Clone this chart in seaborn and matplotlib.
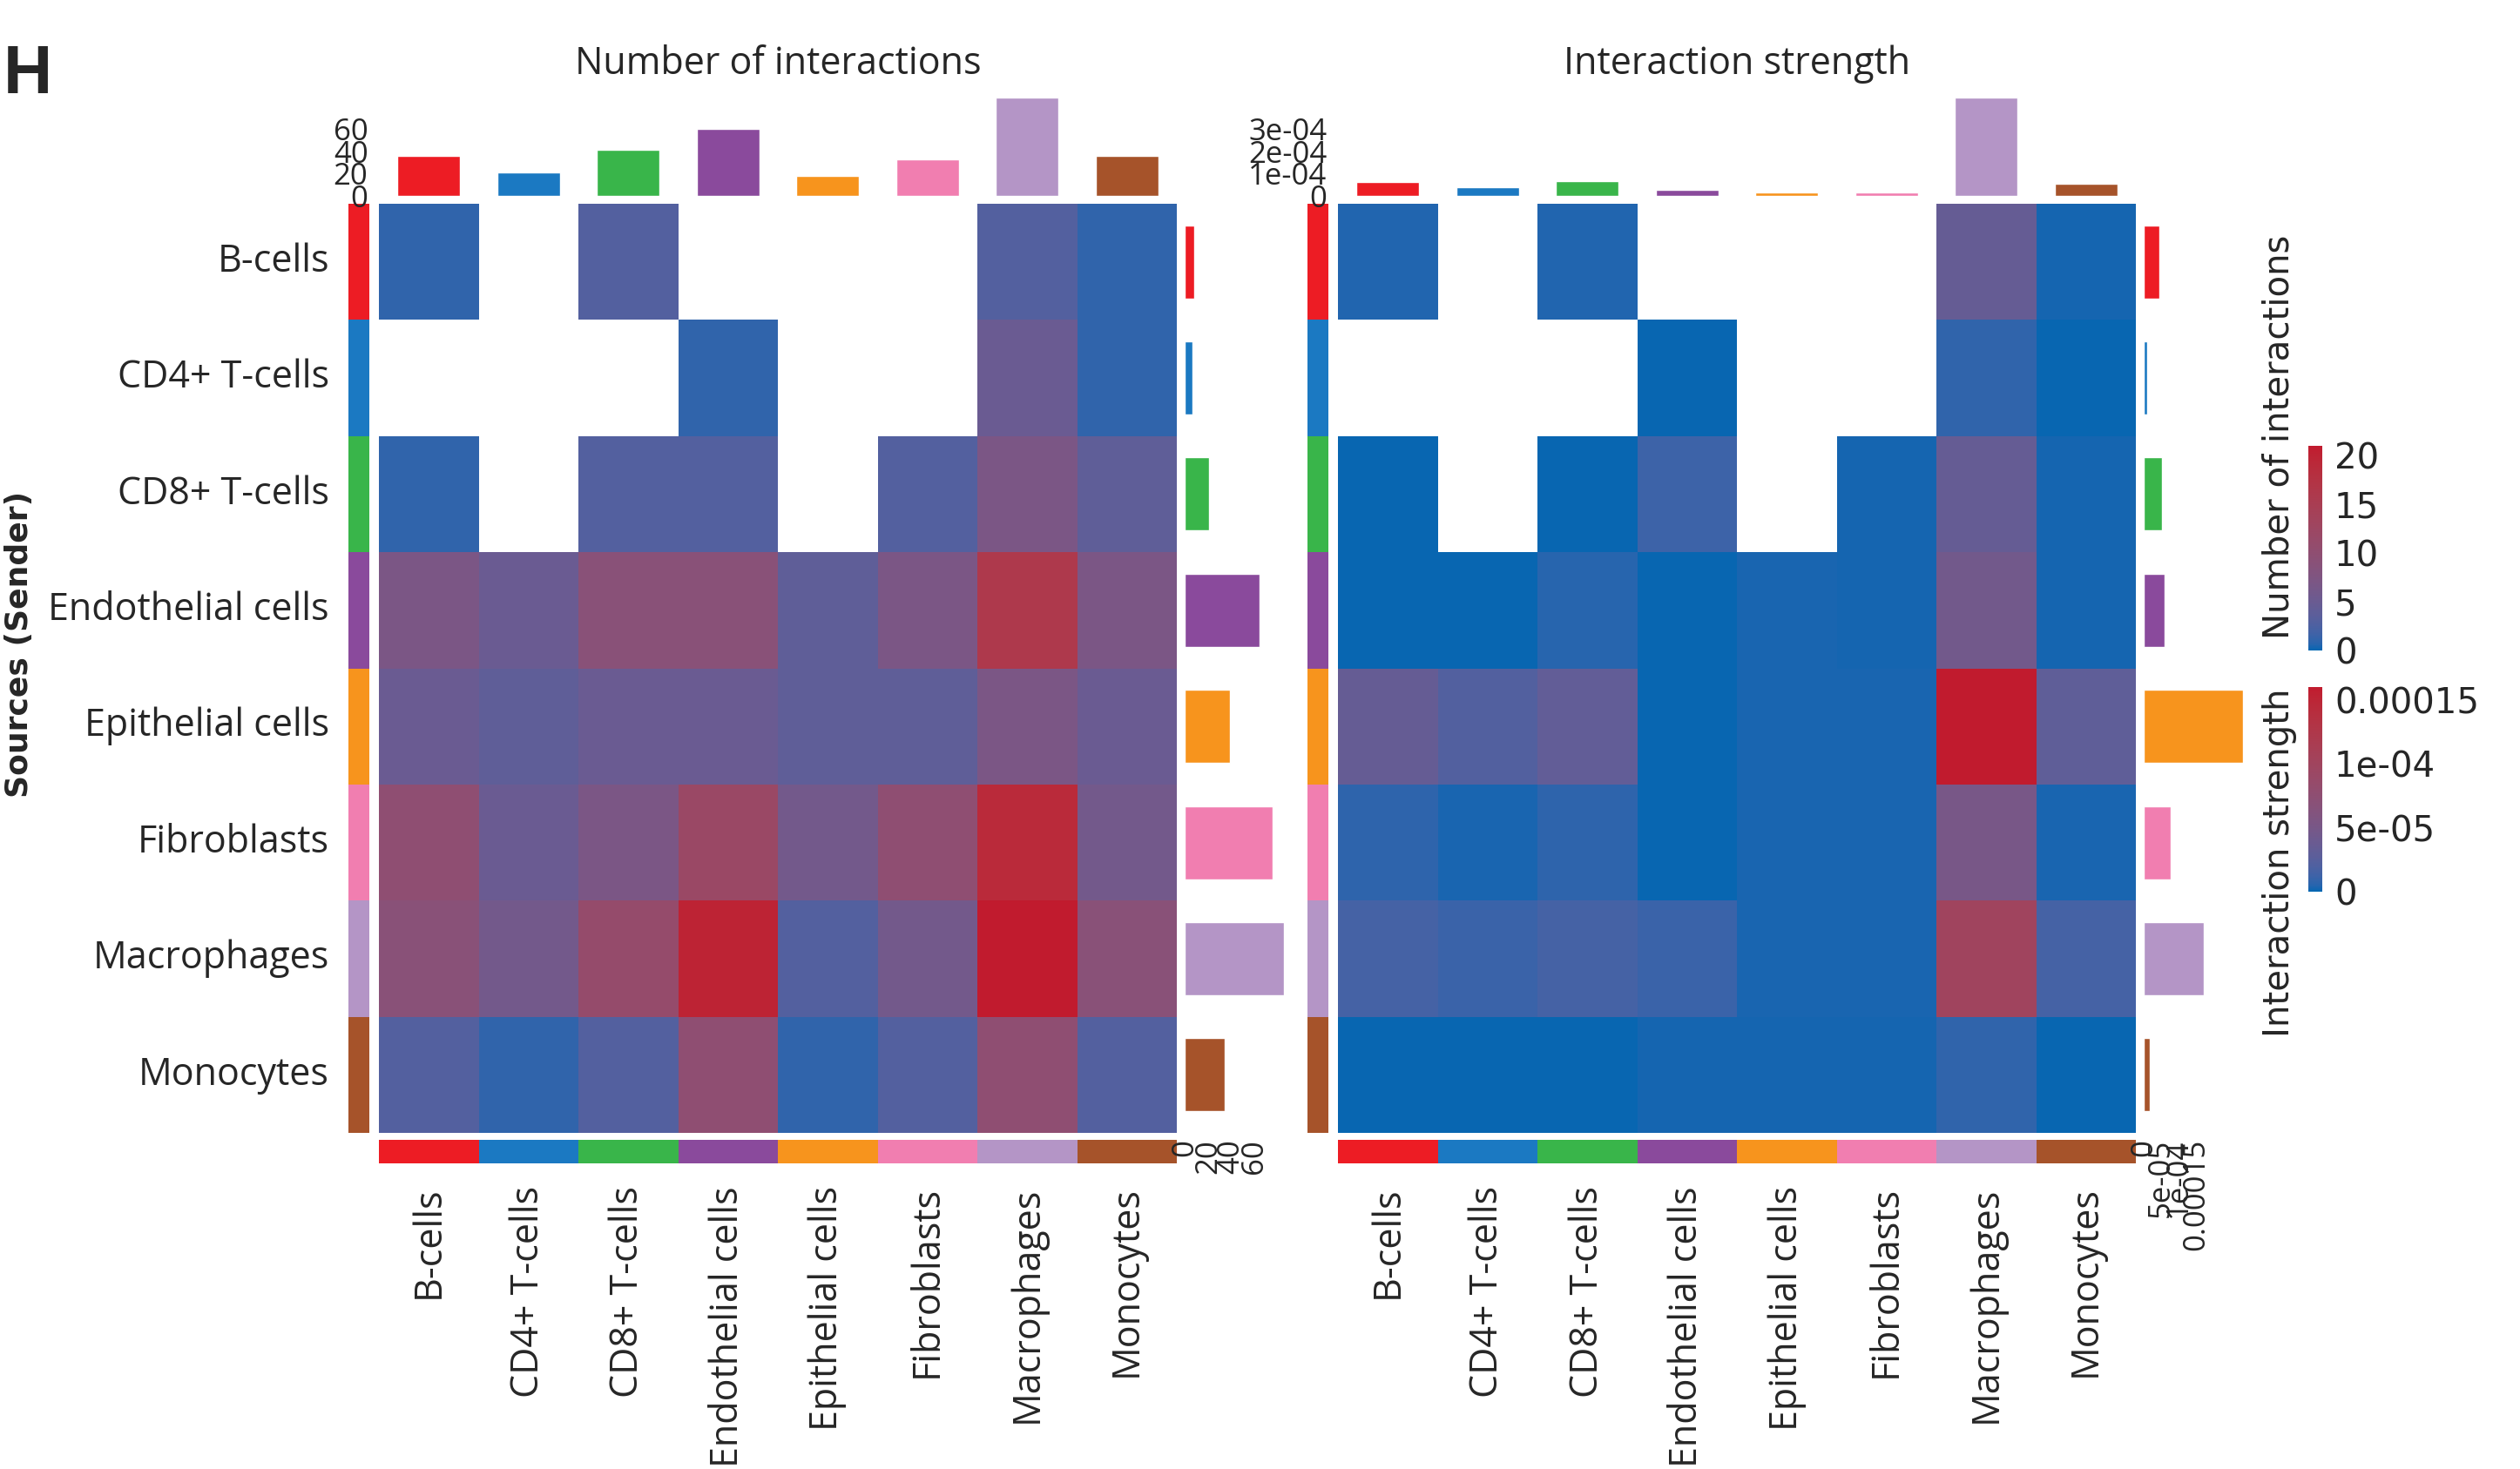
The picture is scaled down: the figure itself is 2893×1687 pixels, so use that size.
import numpy as np
import pandas as pd
import matplotlib
matplotlib.use('Agg')
import matplotlib.pyplot as plt
from matplotlib.colors import ListedColormap, Normalize
from matplotlib.cm import ScalarMappable
import seaborn as sns

cells = ['B-cells', 'CD4+ T-cells', 'CD8+ T-cells', 'Endothelial cells',
         'Epithelial cells', 'Fibroblasts', 'Macrophages', 'Monocytes']
cell_colors = ['#ED1C24', '#1B79C2', '#39B54A', '#8A4A9C',
               '#F7941D', '#F17EB0', '#B495C6', '#A6532A']

nan = np.nan
# rows = sender, columns = receiver
count_values = [
    [1, nan, 3, nan, nan, nan, 3, 1],
    [nan, nan, nan, 1, nan, nan, 5, 1],
    [1, nan, 3, 3, nan, 3, 7, 4],
    [7, 5, 9, 9, 4, 7, 16, 7],
    [5, 4, 5, 5, 4, 4, 7, 5],
    [10, 5, 7, 12, 6, 10, 19, 6],
    [9, 6, 11, 20, 3, 6, 21, 9],
    [3, 1, 3, 10, 1, 3, 10, 3],
]
strength_values = [
    [0.4e-5, nan, 0.4e-5, nan, nan, nan, 3.5e-5, 0.2e-5],
    [nan, nan, nan, 0.1e-5, nan, nan, 0.8e-5, 0.1e-5],
    [0.1e-5, nan, 0.1e-5, 1.2e-5, nan, 0.2e-5, 3.5e-5, 0.2e-5],
    [0.1e-5, 0.1e-5, 0.5e-5, 0.1e-5, 0.3e-5, 0.2e-5, 4.5e-5, 0.2e-5],
    [3.5e-5, 2.2e-5, 3.2e-5, 0.1e-5, 0.3e-5, 0.3e-5, 16.0e-5, 3.0e-5],
    [0.7e-5, 0.3e-5, 0.7e-5, 0.1e-5, 0.3e-5, 0.3e-5, 5.0e-5, 0.3e-5],
    [1.5e-5, 1.1e-5, 1.5e-5, 1.1e-5, 0.3e-5, 0.3e-5, 10.0e-5, 1.5e-5],
    [0.1e-5, 0.1e-5, 0.1e-5, 0.2e-5, 0.2e-5, 0.2e-5, 0.8e-5, 0.1e-5],
]
count_ticks = [0, 20, 40, 60]
strength_ticks = [0, 1e-4, 2e-4, 3e-4]
strength_tick_labels = ['0', '1e-04', '2e-04', '3e-04']
count_cbar_ticks = [0, 5, 10, 15, 20]
strength_cbar_ticks = [0, 5e-5, 1e-4, 1.5e-4]
strength_cbar_labels = ['0', '5e-05', '1e-04', '0.00015']
strength_side_labels = ['0', '5e-05', '1e-04', '0.00015']


def lab_ramp(c1, c2, n=256):
    '''blue -> red ramp interpolated in LAB space (like colorRamp2)'''
    M = np.array([[0.4124, 0.3576, 0.1805], [0.2126, 0.7152, 0.0722], [0.0193, 0.1192, 0.9505]])
    wp = np.array([0.95047, 1.0, 1.08883])

    def to_lab(hexc):
        rgb = np.array(matplotlib.colors.to_rgb(hexc))
        lin = np.where(rgb <= 0.04045, rgb / 12.92, ((rgb + 0.055) / 1.055) ** 2.4)
        xyz = M @ lin / wp
        f = np.where(xyz > 0.008856, np.cbrt(xyz), 7.787 * xyz + 16 / 116)
        return np.array([116 * f[1] - 16, 500 * (f[0] - f[1]), 200 * (f[1] - f[2])])

    def to_rgb(lab):
        fy = (lab[0] + 16) / 116
        f = np.array([fy + lab[1] / 500, fy, fy - lab[2] / 200])
        xyz = np.where(f ** 3 > 0.008856, f ** 3, (f - 16 / 116) / 7.787) * wp
        lin = np.linalg.solve(M, xyz)
        lin = np.clip(lin, 0, 1)
        rgb = np.where(lin <= 0.0031308, lin * 12.92, 1.055 * lin ** (1 / 2.4) - 0.055)
        return np.clip(rgb, 0, 1)

    l1, l2 = to_lab(c1), to_lab(c2)
    return ListedColormap([to_rgb(l1 + (l2 - l1) * t) for t in np.linspace(0, 1, n)])


sns.set_theme(style='white')
plt.rcParams['font.family'] = ['Open Sans', 'DejaVu Sans']

W, H = 2893, 1687
fig = plt.figure(figsize=(W / 100, H / 100), dpi=100)


def rect(x0, y0, x1, y1):
    return [x0 / W, 1 - y1 / H, (x1 - x0) / W, (y1 - y0) / H]


cmap = lab_ramp('#0066B2', '#C11B2E')
strip_cmap = ListedColormap(cell_colors)


def draw_panel(values, x0, title, bar_ticks, bar_tick_labels, side_ticks, side_labels, row_labels):
    df = pd.DataFrame(values, index=cells, columns=cells)
    x1 = x0 + 916
    hm_top, hm_bot = 234, 1301

    ax = fig.add_axes(rect(x0, hm_top, x1, hm_bot))
    sns.heatmap(df, cmap=cmap, vmin=0, vmax=np.nanmax(df.values), cbar=False, ax=ax,
                xticklabels=False, yticklabels=False, linewidths=0)

    # sender colour strip
    ax_l = fig.add_axes(rect(x0 - 35, hm_top, x0 - 11, hm_bot))
    sns.heatmap(np.arange(8).reshape(-1, 1), cmap=strip_cmap, vmin=-0.5, vmax=7.5, cbar=False,
                ax=ax_l, xticklabels=False, yticklabels=cells if row_labels else False)
    if row_labels:
        ax_l.tick_params(axis='y', length=0, pad=16, labelsize=31, rotation=0)

    # receiver colour strip + labels
    ax_b = fig.add_axes(rect(x0, 1309, x1, 1336))
    sns.heatmap(np.arange(8).reshape(1, -1), cmap=strip_cmap, vmin=-0.5, vmax=7.5, cbar=False,
                ax=ax_b, xticklabels=cells, yticklabels=False)
    ax_b.tick_params(axis='x', length=0, pad=19, labelsize=31)
    plt.setp(ax_b.get_xticklabels(), rotation=90, ha='center', va='top')

    # incoming totals on top
    col_sum = df.sum(axis=0).values
    ax_t = fig.add_axes(rect(x0, 112, x1, 225))
    sns.barplot(x=cells, y=col_sum, hue=cells, palette=cell_colors, legend=False,
                saturation=1, width=0.63, ax=ax_t)
    ax_t.set_xlim(-0.5, 7.5)
    ax_t.set_ylim(0, col_sum.max())
    ax_t.set_xticks([])
    ax_t.set_yticks(bar_ticks)
    ax_t.set_yticklabels(bar_tick_labels)
    ax_t.tick_params(axis='y', length=0, pad=9, labelsize=25)
    ax_t.set(xlabel='', ylabel='')
    for s in ax_t.spines.values():
        s.set_visible(False)

    # outgoing totals on the right
    row_sum = df.sum(axis=1).values
    ax_r = fig.add_axes(rect(x1 + 9, hm_top, x1 + 123, hm_bot))
    sns.barplot(x=row_sum, y=cells, hue=cells, palette=cell_colors, legend=False,
                saturation=1, width=0.63, orient='h', ax=ax_r)
    ax_r.set_ylim(7.5, -0.5)
    ax_r.set_xlim(0, row_sum.max())
    ax_r.set_yticks([])
    ax_r.set_xticks(side_ticks)
    ax_r.set_xticklabels(side_labels, rotation=90)
    ax_r.tick_params(axis='x', length=0, pad=5, labelsize=25)
    ax_r.set(xlabel='', ylabel='')
    for s in ax_r.spines.values():
        s.set_visible(False)

    fig.text((x0 + x1) / 2 / W, 1 - 85 / H, title, ha='center', va='baseline', fontsize=31)


draw_panel(count_values, 435, 'Number of interactions', count_ticks, [str(t) for t in count_ticks],
           count_ticks, [str(t) for t in count_ticks], True)
draw_panel(strength_values, 1536, 'Interaction strength', strength_ticks, strength_tick_labels,
           strength_cbar_ticks, strength_side_labels, False)


def add_colorbar(y0, y1, vmax, ticks, labels, title, title_bottom):
    cax = fig.add_axes(rect(2650, y0, 2666, y1))
    cb = fig.colorbar(ScalarMappable(norm=Normalize(0, vmax), cmap=cmap), cax=cax)
    cb.outline.set_visible(False)
    cb.set_ticks(ticks)
    cb.set_ticklabels(labels)
    cax.tick_params(length=0, pad=10, labelsize=29)
    for lbl in cax.get_yticklabels():
        lbl.set_family('DejaVu Sans')
    fig.text(2617 / W, 1 - title_bottom / H, title, rotation=90, ha='center', va='bottom',
             fontsize=29, family='DejaVu Sans')


add_colorbar(512, 747, np.nanmax(np.array(count_values, dtype=float)), count_cbar_ticks,
             [str(t) for t in count_cbar_ticks], 'Number of interactions', 734)
add_colorbar(789, 1024, np.nanmax(np.array(strength_values, dtype=float)), strength_cbar_ticks,
             strength_cbar_labels, 'Interaction strength', 1191)

fig.text(22 / W, 1 - 740 / H, 'Sources (Sender)', rotation=90, ha='center', va='center',
         fontsize=26, fontweight='bold', family='DejaVu Sans')
fig.text(4 / W, 1 - 107 / H, 'H', fontsize=56, fontweight='bold', family='Liberation Sans',
         va='baseline', ha='left')

fig.savefig('out.png', dpi=100)
